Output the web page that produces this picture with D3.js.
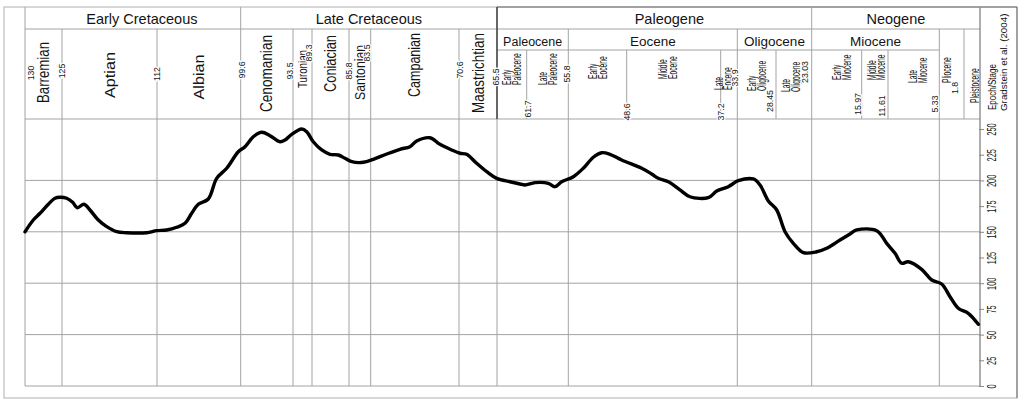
<!DOCTYPE html>
<html>
<head>
<meta charset="utf-8">
<script src="https://cdn.jsdelivr.net/npm/d3@7"></script>
<style>
  html, body { margin: 0; padding: 0; background: #fff; }
  svg { display: block; font-family: "Liberation Sans", Arial, Helvetica, sans-serif; }
</style>
</head>
<body>
<svg id="chart" width="1021" height="400"></svg>
<script>
// ---- Timescale (Gradstein et al. 2004), ages in Ma ----
const boundaryAges   = [130, 125, 112, 99.6, 93.5, 89.3, 85.8, 83.5, 70.6, 65.5, 61.7, 55.8, 48.6, 37.2, 33.9, 28.45, 23.03, 15.97, 11.61, 5.33, 1.8, 0];
const boundaryLabels = ["130", "125", "112", "99.6", "93.5", "89.3", "85.8", "83.5", "70.6", "65.5", "61.7", "55.8", "48.6", "37.2", "33.9", "28.45", "23.03", "15.97", "11.61", "5.33", "1.8"];

const periodNames = ["Early Cretaceous", "Late Cretaceous", "Paleogene", "Neogene"];
const periodSpans = [[130, 99.6], [99.6, 65.5], [65.5, 23.03], [23.03, 0]];

const epochNames = ["Paleocene", "Eocene", "Oligocene", "Miocene"];
const epochSpans = [[65.5, 55.8], [55.8, 33.9], [33.9, 23.03], [23.03, 5.33]];

const stageNames = ["Barremian", "Aptian", "Albian", "Cenomanian", "Turonian", "Coniacian", "Santonian", "Campanian", "Maastrichtian"];
const stageSpans = [[130, 125], [125, 112], [112, 99.6], [99.6, 93.5], [93.5, 89.3], [89.3, 85.8], [85.8, 83.5], [83.5, 70.6], [70.6, 65.5]];

const subEpochNames = [["Early", "Paleocene"], ["Late", "Paleocene"], ["Early", "Eocene"], ["Middle", "Eocene"], ["Late", "Eocene"],
                       ["Early", "Oligocene"], ["Late", "Oligocene"], ["Early", "Miocene"], ["Middle", "Miocene"], ["Late", "Miocene"],
                       ["Pliocene"], ["Pleistocene"]];
const subEpochSpans = [[65.5, 61.7], [61.7, 55.8], [55.8, 48.6], [48.6, 37.2], [37.2, 33.9], [33.9, 28.45], [28.45, 23.03],
                       [23.03, 15.97], [15.97, 11.61], [11.61, 5.33], [5.33, 1.8], [1.8, 0]];

// Boundaries carried down through the plot as vertical rules
const gridAges = [125, 112, 99.6, 93.5, 89.3, 85.8, 83.5, 70.6, 65.5, 55.8, 33.9, 23.03, 5.33];

// ---- Diversity curve ----
const ages = [130, 128.88, 127.97, 126.85, 125.95, 125.27, 124.36, 123.54, 122.91, 121.99, 121.17, 120.03, 118.88, 117.51,
              116.15, 113.41, 112.04, 110.56, 109.08, 107.85, 106.86, 105.88, 104.40, 103.16, 101.67, 99.96, 99.10, 98.13,
              97.15, 96.18, 95.02, 94.43, 93.65, 91.58, 90.47, 89.18, 88.38, 87.60, 86.81, 86.18, 85.51, 84.28, 83.12,
              81.16, 79.22, 77.76, 76.78, 74.84, 73.38, 71.67, 70.47, 69.57, 68.23, 66.88, 65.54, 63.84, 62.56, 61.92,
              60.52, 58.64, 57.69, 56.74, 55.18, 53.95, 52.72, 51.68, 50.66, 49.22, 46.78, 45.57, 44.77, 43.55, 42.14,
              40.93, 38.70, 37.68, 35.69, 33.76, 31.65, 30.70, 29.53, 28.34, 27.08, 25.82, 24.30, 22.32, 20.91, 19.03,
              17.62, 16.68, 13.48, 11.83, 10.75, 9.93, 9.13, 7.49, 6.26, 4.99, 3.80, 2.62, 1.32, 0.19];
const diversity = [150, 161.5, 168.0, 176.8, 182.6, 183.6, 182.6, 178.7, 173.4, 176.8, 171.2, 161.5, 155.0, 150.1,
                   149.1, 149.1, 151.1, 151.8, 154.4, 158.3, 168.0, 176.8, 181.9, 202.0, 211.8, 227.9, 232.8, 242.5,
                   246.8, 243.5, 237.6, 239.3, 244.8, 250.0, 247.4, 237.6, 229.6, 225.4, 224.7, 221.5, 218.2, 217.6, 220.5,
                   225.7, 230.3, 232.8, 238.3, 241.5, 235.1, 229.6, 226.4, 225.4, 216.6, 208.5, 202.0, 198.7, 196.5, 195.5,
                   197.8, 197.2, 193.9, 198.7, 203.6, 211.8, 222.5, 226.9, 225.4, 219.8, 211.8, 206.2, 202.0, 198.7, 190.7,
                   184.1, 183.2, 189.7, 193.9, 199.7, 201.4, 195.5, 180.0, 171.2, 150.1, 138.8, 129.7, 130.6, 134.0, 142.0,
                   147.9, 151.8, 151.1, 138.8, 129.1, 119.4, 120.9, 113.5, 103.1, 99.2, 86.9, 75.6, 70.7, 60.0];

const yTicks = [0, 25, 50, 75, 100, 125, 150, 175, 200, 225, 250];
const yGrid = [50, 100, 150, 200];

// ---- Layout ----
// pixel edge of each timescale column, one per boundary age
const colEdges = [25, 62, 157, 240.7, 293, 312, 349, 370.7, 459, 497, 526.7, 568.3, 626.7, 720.7, 737.3, 776, 811.7, 861.7, 888, 939.3, 964, 980];
const frame = { left: 4, top: 7, right: 1017, bottom: 398 };
const rowPeriod = 29, rowEpoch = 50, plotTop = 119, plotBottom = 386;
const lineColor = "#a3a3a3";
const textColor = "#141414";

// boundary number placement (offset from its rule, vertical centre)
const labelDx = [5.7, 0, 0, 1, -3, -3, 0, -3.7, 1, -1, 1.3, -1.3, 0, 0, -2.3, -6, -6.7, -3.7, -6, -4.3, -9];
const labelY  = [73, 71, 74, 70, 71, 53, 71, 53, 70, 77, 109, 74, 112, 112, 78, 101, 72, 104, 106, 104, 88];

// stage name styling
const stageFont = [16, 15, 15, 16, 12, 16, 15, 16, 16];
const stageLen  = [61, 46, 45, 77, 38, 57, 55, 64, 80];
const stageY    = [72.5, 75, 77, 73.5, 69, 63.5, 72.5, 65, 73];

// sub-epoch styling: bottom of text, horizontal nudge
const subBottom = [85, 85, 79, 79, 90, 91, 92, 80, 80, 83, 83, 103];
const subDx     = [0, 0, 0, -6, -6, 0, -3, 5, 1.5, 4, -5, 3];

const periodDx = [9, 0, 15, 0];

// ---- Scales ----
const x = d3.scaleLinear().domain(boundaryAges).range(colEdges);
const y = d3.scaleLinear().domain([0, 250]).range([plotBottom, 129]);

const svg = d3.select("#chart");

// ---- Frame and rules ----
svg.append("rect")
  .attr("x", frame.left).attr("y", frame.top)
  .attr("width", frame.right - frame.left).attr("height", frame.bottom - frame.top)
  .attr("fill", "none").attr("stroke", "#b0b0b0").attr("stroke-width", 1);

// darker border over the Cenozoic part of the strip
svg.append("path")
  .attr("d", `M${x(65.5)},${frame.top}H${frame.right}V${frame.bottom}`)
  .attr("fill", "none").attr("stroke", "#6a6a6a").attr("stroke-width", 1);

const hLines = [
  { y: rowPeriod, x1: x(130), x2: x(0) },
  { y: rowEpoch, x1: x(65.5), x2: x(5.33) },
  { y: plotTop, x1: x(130), x2: x(0) },
  { y: plotBottom, x1: x(130), x2: x(0) },
  ...yGrid.map(v => ({ y: y(v), x1: x(130), x2: x(0) }))
];
svg.append("g").selectAll("line").data(hLines).join("line")
  .attr("x1", d => d.x1).attr("x2", d => d.x2)
  .attr("y1", d => d.y).attr("y2", d => d.y)
  .attr("stroke", lineColor).attr("stroke-width", 1);

const periodBounds = new Set(periodSpans.flat());
const epochBounds = new Set([...stageSpans.flat(), ...epochSpans.flat(), 1.8]);
const plotBounds = new Set([130, 0, ...gridAges]);

svg.append("g").selectAll("line").data(boundaryAges).join("line")
  .attr("x1", d => x(d)).attr("x2", d => x(d))
  .attr("y1", d => periodBounds.has(d) ? frame.top : epochBounds.has(d) ? rowPeriod : rowEpoch)
  .attr("y2", d => plotBounds.has(d) ? plotBottom : plotTop)
  .attr("stroke", lineColor).attr("stroke-width", 1);

// Cretaceous / Paleogene boundary, heavier through the strip
svg.append("line")
  .attr("x1", x(65.5)).attr("x2", x(65.5))
  .attr("y1", frame.top).attr("y2", plotTop)
  .attr("stroke", "#3a3a3a").attr("stroke-width", 1.4);

// ---- Header text ----
const rot = (cx, cy, s = 1) => `translate(${cx},${cy}) rotate(-90)` + (s !== 1 ? ` scale(${s},1)` : "");

svg.append("g").selectAll("text").data(periodNames).join("text")
  .attr("x", (d, i) => (x(periodSpans[i][0]) + x(periodSpans[i][1])) / 2 + periodDx[i])
  .attr("y", 23.5)
  .attr("text-anchor", "middle")
  .attr("font-size", 14.5).attr("fill", textColor)
  .text(d => d);

svg.append("g").selectAll("text").data(epochNames).join("text")
  .attr("x", (d, i) => (x(epochSpans[i][0]) + x(epochSpans[i][1])) / 2)
  .attr("y", 45.5)
  .attr("text-anchor", "middle")
  .attr("font-size", (d, i) => i === 0 ? 12.5 : 13.5).attr("fill", textColor)
  .text(d => d);

svg.append("g").selectAll("text").data(stageNames).join("text")
  .attr("transform", (d, i) => rot((x(stageSpans[i][0]) + x(stageSpans[i][1])) / 2, stageY[i]))
  .attr("text-anchor", "middle").attr("dominant-baseline", "central")
  .attr("font-size", (d, i) => stageFont[i])
  .attr("textLength", (d, i) => stageLen[i]).attr("lengthAdjust", "spacingAndGlyphs")
  .attr("fill", textColor)
  .text(d => d);

const sub = svg.append("g").selectAll("g").data(subEpochNames).join("g")
  .attr("transform", (d, i) => `translate(${(x(subEpochSpans[i][0]) + x(subEpochSpans[i][1])) / 2 + subDx[i]},${subBottom[i]})`);
sub.selectAll("text").data(d => d.map((t, k) => ({ t, k, n: d.length }))).join("text")
  .attr("transform", d => rot((d.k - (d.n - 1) / 2) * 9.5, 0, 0.56))
  .attr("text-anchor", "start").attr("dominant-baseline", "central")
  .attr("font-size", 12).attr("fill", textColor)
  .text(d => d.t);

// boundary ages, set on their rules with a white knock-out
svg.append("g").selectAll("text").data(boundaryLabels).join("text")
  .attr("transform", (d, i) => rot(x(boundaryAges[i]) + labelDx[i], labelY[i]))
  .attr("text-anchor", "middle").attr("dominant-baseline", "central")
  .attr("font-size", 8.8).attr("fill", textColor)
  .attr("stroke", "#fff").attr("stroke-width", 2.5).attr("paint-order", "stroke")
  .text(d => d);

// source column
const src = svg.append("g").attr("fill", textColor);
src.append("text").attr("transform", rot(991.5, 110))
  .attr("dominant-baseline", "central").attr("font-size", 11.5)
  .attr("textLength", 46).attr("lengthAdjust", "spacingAndGlyphs").text("Epoch/Stage");
src.append("text").attr("transform", rot(1003, 111))
  .attr("dominant-baseline", "central").attr("font-size", 9.8)
  .text("Gradstein et al. (2004)");

// ---- Right axis ----
const axis = svg.append("g")
  .attr("transform", `translate(${x(0)},0)`)
  .call(d3.axisRight(y).tickValues(yTicks).tickSize(4).tickSizeOuter(0));
axis.select(".domain").remove();
axis.selectAll(".tick line").attr("stroke", "#888").attr("x1", -1);
axis.selectAll(".tick text")
  .attr("x", null).attr("dy", null)
  .attr("transform", rot(12, 0, 0.62))
  .attr("text-anchor", "middle").attr("dominant-baseline", "central")
  .attr("font-size", 12).attr("font-family", "Liberation Sans, Arial, sans-serif")
  .attr("fill", textColor);
svg.append("line")
  .attr("x1", x(0)).attr("x2", x(0)).attr("y1", frame.top).attr("y2", plotBottom)
  .attr("stroke", "#8a8a8a").attr("stroke-width", 1);

// ---- Curve ----
const line = d3.line()
  .x((d, i) => x(ages[i]))
  .y((d, i) => y(diversity[i]))
  .curve(d3.curveCatmullRom.alpha(0.5));
svg.append("path")
  .datum(ages)
  .attr("d", line)
  .attr("fill", "none").attr("stroke", "#000")
  .attr("stroke-width", 3.4).attr("stroke-linejoin", "round").attr("stroke-linecap", "round");
</script>
</body>
</html>
